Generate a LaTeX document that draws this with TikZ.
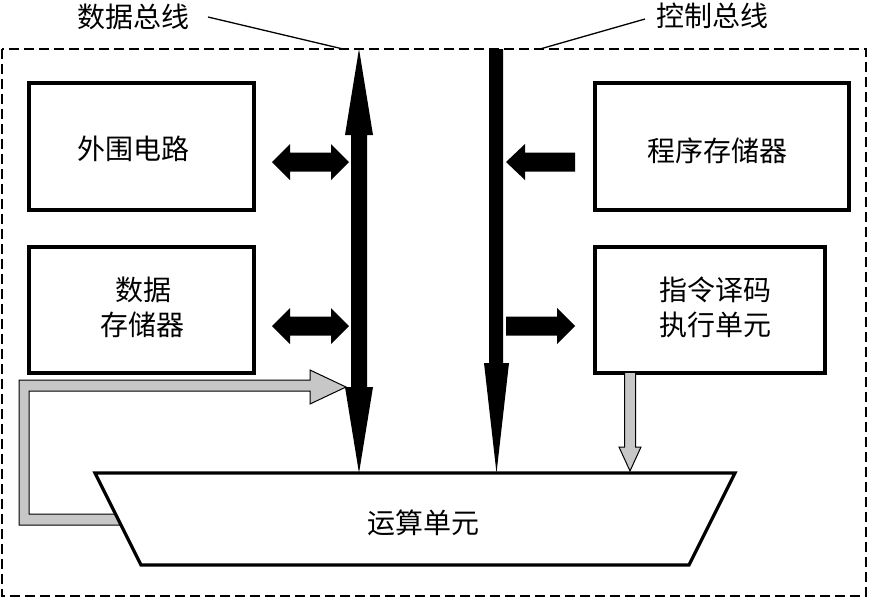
\documentclass[tikz,border=0pt]{standalone}
\usepackage{fontspec}
\newfontfamily\cjk{Noto Sans CJK SC}
\begin{document}
\begin{tikzpicture}[x=1pt,y=-1pt,
  box/.style={draw,line width=3.2pt,fill=white},
  lbl/.style={font=\cjk\fontsize{28}{35}\selectfont,inner sep=0pt,align=center},
  blk/.style={fill=black},
  grayarrow/.style={fill=black!22,draw=black,line width=1pt},
  leader/.style={line width=1.3pt}]
\useasboundingbox (0,0) rectangle (869,598);
% frame
\draw[line width=2.2pt,dash pattern=on 10pt off 5pt] (2,49) rectangle (866,596);
% boxes
\draw[box] (29,83) rectangle (254,210);
\draw[box] (29,247) rectangle (254,373);
\draw[box] (595,83) rectangle (849,210);
\draw[box] (595,247) rectangle (825,373);
\node[lbl] (tww) at (133,149) {外围电路};
\node[lbl] (tsj) at (142,307) {\hspace*{3pt}数据\\存储器};
\node[lbl] (tcx) at (717,151) {程序存储器};
\node[lbl] (tzl) at (715,307) {指令译码\\执行单元};
% top labels
\node[lbl] (ldb) at (133,17) {数据总线};
\node[lbl] (lcb) at (712,16) {控制总线};
\coordinate (ldbE) at (208,17);
\coordinate (ldbT) at (343,49);
\coordinate (lcbE) at (645,19);
\coordinate (lcbT) at (540,49);
\draw[leader] (ldbE) -- (ldbT);
\draw[leader] (lcbE) -- (lcbT);
% feedback gray arrow
\draw[grayarrow] (130,514) -- (29,514) -- (29,391) -- (310,391) -- (310,404) -- (346,387)
  -- (310,370) -- (310,380) -- (19,380) -- (19,525) -- (130,525);
% gray down arrow
\draw[grayarrow] (624.5,373) -- (624.5,447) -- (619,447) -- (630,471) -- (641,447) -- (635.5,447) -- (635.5,373);
% ALU
\draw[box,line join=miter] (95,473) -- (735,473) -- (689,565) -- (141,565) -- cycle;
\node[lbl] (alu) at (423,523) {运算单元};
% data bus
\fill[blk] (359,49) -- (373,135) -- (367,135) -- (367,387) -- (373,387) -- (359,473)
  -- (345,387) -- (351,387) -- (351,135) -- (345,135) -- cycle;
% control bus
\fill[blk] (489,49) -- (503,49) -- (503,363) -- (509,363) -- (496.5,473) -- (484,363) -- (489,363) -- cycle;
% double arrows
\foreach \yy in {162,326}{
  \fill[blk] (272,\yy) -- (290,\yy-18) -- (290,\yy-9.5) -- (331,\yy-9.5) -- (331,\yy-18) -- (349,\yy)
    -- (331,\yy+18) -- (331,\yy+9.5) -- (290,\yy+9.5) -- (290,\yy+18) -- cycle;
}
% control arrows
\fill[blk] (506,162) -- (525,144) -- (525,152.5) -- (575,152.5) -- (575,171.5) -- (525,171.5) -- (525,180) -- cycle;
\fill[blk] (575,326) -- (557,308) -- (557,316.5) -- (506,316.5) -- (506,335.5) -- (557,335.5) -- (557,344) -- cycle;
\end{tikzpicture}
\end{document}
